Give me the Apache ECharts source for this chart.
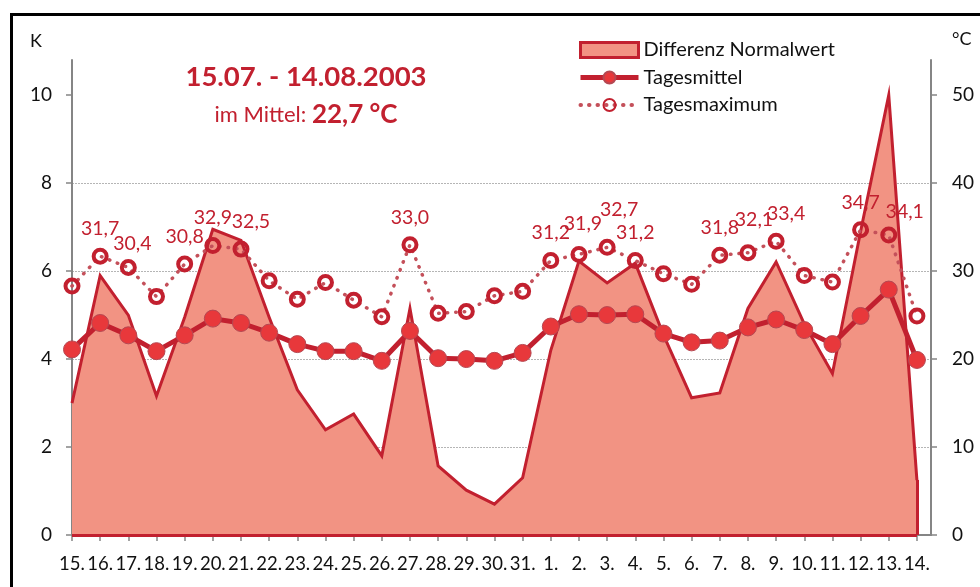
<!DOCTYPE html>
<html>
<head>
<meta charset="utf-8">
<script src="https://cdn.jsdelivr.net/npm/echarts@6/dist/echarts.min.js"></script>
<style>
  html, body { margin: 0; padding: 0; width: 980px; height: 587px; overflow: hidden; background: #fff; }
  #chart { position: absolute; left: 0; top: 0; width: 980px; height: 587px; }
  #frame { position: absolute; left: 10px; top: 13px; width: 1100px; height: 700px; border-left: 3px solid #000; border-top: 3px solid #000; pointer-events: none; }
</style>
</head>
<body>
<div id="chart"></div>
<div id="frame"></div>
<script>
// ---- data ----
const days = ['15.','16.','17.','18.','19.','20.','21.','22.','23.','24.','25.','26.','27.','28.','29.','30.','31.',
              '1.','2.','3.','4.','5.','6.','7.','8.','9.','10.','11.','12.','13.','14.'];
const diffNormal = [3.0,5.9,5.0,3.16,4.95,6.95,6.7,4.95,3.3,2.39,2.75,1.8,5.15,1.57,1.02,0.7,1.3,
                    4.2,6.23,5.73,6.18,4.55,3.12,3.23,5.15,6.21,4.8,3.67,6.9,10.0,1.25];
const tagesmittel = [21.1,24.1,22.7,20.9,22.7,24.6,24.1,23.0,21.7,20.9,20.9,19.8,23.2,20.1,20.0,19.8,20.7,
                     23.7,25.1,25.0,25.1,22.9,21.9,22.1,23.6,24.5,23.3,21.7,24.9,27.9,19.9];
const tagesmaximum = [28.3,31.7,30.4,27.1,30.8,32.9,32.5,28.9,26.8,28.7,26.7,24.8,33.0,25.2,25.4,27.2,27.7,
                      31.2,31.9,32.7,31.2,29.7,28.5,31.8,32.1,33.4,29.5,28.75,34.7,34.1,24.9];
const labelledDays = ['16.','17.','19.','20.','21.','27.','1.','2.','3.','4.','7.','8.','9.','12.','13.'];
const kTicks = [0,2,4,6,8,10];
const cTicks = [0,10,20,30,40,50];
const seriesNames = ['Differenz Normalwert','Tagesmittel','Tagesmaximum'];
const titleLine1 = '15.07. - 14.08.2003';
const titleLine2a = 'im Mittel: ';
const titleLine2b = '22,7 °C';

// ---- styles ----
const CRIMSON = '#C2202F';
const SALMON = '#F29383';
const MARK = '#E8383B';
const GREY = '#858585';
const FONT = 'Lato, "Open Sans", sans-serif';
const labelNudge = { '17.': [4, 4], '21.': [10, 0], '2.': [4, -3], '3.': [12, -10], '8.': [6, -5], '9.': [10, 0], '13.': [16, 4] };

const fmt = v => v.toFixed(1).replace('.', ',');
const idx = days.map((d, i) => i);

const chart = echarts.init(document.getElementById('chart'), null, { renderer: 'canvas' });

const option = {
  animation: false,
  textStyle: { fontFamily: FONT },
  title: {
    left: 301, top: 53, textAlign: 'center',
    text: '{a|' + titleLine1 + '}\n{b|' + titleLine2a + '}{c|' + titleLine2b + '}',
    textStyle: {
      rich: {
        a: { fontFamily: FONT, fontSize: 27.5, fontWeight: 'bold', color: CRIMSON, lineHeight: 38 },
        b: { fontFamily: FONT, fontSize: 22, fontWeight: 'normal', color: CRIMSON, lineHeight: 38 },
        c: { fontFamily: FONT, fontSize: 26, fontWeight: 'bold', color: CRIMSON, lineHeight: 38 }
      }
    }
  },
  legend: {
    orient: 'vertical', left: 578, top: 40, padding: 0, itemWidth: 58, itemHeight: 15, itemGap: 7.5,
    textStyle: { fontFamily: FONT, fontSize: 20, lineHeight: 15, color: '#111' },
    data: [
      { name: seriesNames[0], icon: 'rect', itemStyle: { color: SALMON, borderColor: CRIMSON, borderWidth: 3 } },
      { name: seriesNames[1], lineStyle: { width: 5 } },
      { name: seriesNames[2], lineStyle: { width: 4 } }
    ]
  },
  grid: { left: 72, right: 49, top: 60, bottom: 52, containLabel: false },
  xAxis: {
    type: 'value', min: 0, max: 30.5, interval: 1,
    splitLine: { show: false },
    axisLine: { lineStyle: { color: GREY, width: 2 } },
    axisTick: { length: 6, lineStyle: { color: GREY, width: 1.5 }, customValues: idx },
    axisLabel: {
      customValues: idx, margin: 20, fontSize: 18.5, color: '#111', fontFamily: FONT,
      formatter: v => (Number.isInteger(v) && days[v] !== undefined) ? days[v] : ''
    }
  },
  yAxis: [
    {
      type: 'value', min: 0, max: 10.8, interval: 2, position: 'left',
      name: 'K', nameLocation: 'end', nameGap: 10,
      nameTextStyle: { fontFamily: FONT, fontSize: 18, color: '#111', align: 'right', padding: [0, 30, 0, 0] },
      axisLine: { show: true, lineStyle: { color: GREY, width: 2 } },
      axisTick: { show: true, length: 6, lineStyle: { color: GREY, width: 1.5 }, customValues: kTicks },
      axisLabel: { customValues: kTicks, margin: 20, fontSize: 19, color: '#111', fontFamily: FONT },
      splitLine: { show: true, showMaxLine: false, showMinLine: false, lineStyle: { color: '#B5B5B5', width: 1, type: [2, 1] } }
    },
    {
      type: 'value', min: 0, max: 54, interval: 10, position: 'right',
      name: '°C', nameLocation: 'end', nameGap: 12,
      nameTextStyle: { fontFamily: FONT, fontSize: 18, color: '#111', align: 'left', padding: [0, 0, 0, 21] },
      axisLine: { show: true, lineStyle: { color: GREY, width: 2 } },
      axisTick: { show: true, length: 6, lineStyle: { color: GREY, width: 1.5 }, customValues: cTicks },
      axisLabel: { customValues: cTicks, margin: 21, fontSize: 19, color: '#111', fontFamily: FONT },
      splitLine: { show: false }
    }
  ],
  series: [
    {
      name: seriesNames[0], type: 'line', yAxisIndex: 0, z: 2,
      data: diffNormal.map((v, i) => [i, v]),
      symbol: 'none',
      lineStyle: { color: CRIMSON, width: 3, join: 'miter' },
      itemStyle: { color: SALMON, borderColor: CRIMSON },
      areaStyle: { color: SALMON, opacity: 1 },
      markLine: {
        silent: true, symbol: 'none', label: { show: false },
        lineStyle: { color: CRIMSON, width: 3, type: 'solid' },
        data: [
          [{ coord: [idx.length - 1, 0] }, { coord: [idx.length - 1, diffNormal[diffNormal.length - 1]] }],
          [{ coord: [0, 0] }, { coord: [idx.length - 1, 0] }]
        ]
      }
    },
    {
      name: seriesNames[1], type: 'line', yAxisIndex: 1, z: 4,
      data: tagesmittel.map((v, i) => [i, v]),
      symbol: 'circle', symbolSize: 17,
      lineStyle: { color: CRIMSON, width: 5 },
      itemStyle: { color: MARK, borderColor: '#B54852', borderWidth: 1 }
    },
    {
      name: seriesNames[2], type: 'line', yAxisIndex: 1, z: 5,
      data: tagesmaximum.map((v, i) => ({
        value: [i, v],
        label: { show: labelledDays.includes(days[i]), offset: labelNudge[days[i]] || [0, 0] }
      })),
      symbol: 'circle', symbolSize: 13,
      lineStyle: { color: '#C4505A', width: 3.5, type: [0.5, 8], cap: 'round' },
      itemStyle: { color: 'rgba(255,255,255,0)', borderColor: CRIMSON, borderWidth: 4 },
      label: {
        position: 'top', distance: 9, fontFamily: FONT, fontSize: 19.5, color: CRIMSON,
        formatter: p => fmt(p.value[1])
      }
    }
  ]
};
chart.setOption(option);
</script>
</body>
</html>
